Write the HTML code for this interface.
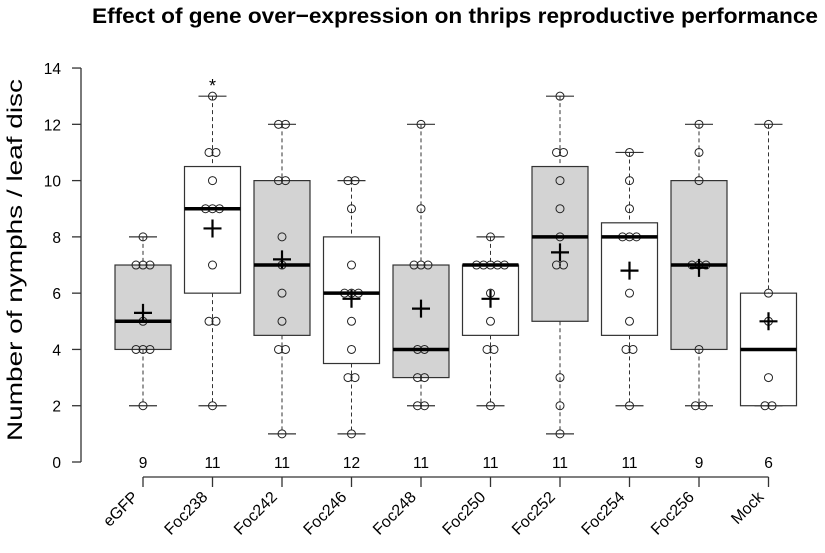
<!DOCTYPE html>
<html><head><meta charset="utf-8"><style>
body{margin:0;background:#fff}
svg text{font-family:"Liberation Sans",sans-serif}
</style></head><body>
<svg id="chart" width="825" height="548" xmlns="http://www.w3.org/2000/svg">
<text x="455" y="23" text-anchor="middle" font-size="21.5" font-weight="bold" textLength="726" lengthAdjust="spacingAndGlyphs">Effect of gene over−expression on thrips reproductive performance</text>
<text transform="translate(22,260) rotate(-90)" text-anchor="middle" font-size="21" textLength="362" lengthAdjust="spacingAndGlyphs">Number of nymphs / leaf disc</text>
<g id="g"></g>
</svg>
<script>
const categories=["eGFP","Foc238","Foc242","Foc246","Foc248","Foc250","Foc252","Foc254","Foc256","Mock"];
const q1s=[4,6,4.5,3.5,3,4.5,5,4.5,4,2];
const medians=[5,9,7,6,4,7,8,8,7,4];
const q3s=[7,10.5,10,8,7,7,10.5,8.5,10,6];
const whiskLo=[2,2,1,1,2,2,1,2,2,2];
const whiskHi=[8,13,12,10,12,8,13,11,12,12];
const means=[5.3,8.3,7.2,5.8,5.45,5.8,7.45,6.8,6.9,5];
const counts=["9","11","11","12","11","11","11","11","9","6"];
const shaded=[true,false,true,false,true,false,true,false,true,false];
const points=[
[8,7,7,7,5,4,4,4,2],
[13,11,11,10,9,9,9,7,5,5,2],
[12,12,10,10,8,7,6,5,4,4,1],
[10,10,9,7,6,6,6,5,4,3,3,1],
[12,9,7,7,7,4,4,3,3,2,2],
[8,7,7,7,7,7,6,5,4,4,2],
[13,11,11,10,9,8,7,7,3,2,1],
[11,10,9,8,8,8,6,5,4,4,2],
[12,11,10,7,7,7,4,2,2],
[12,6,5,3,2,2]];
const yTicks=[0,2,4,6,8,10,12,14];
const y=v=>462-v*28.14;
const x=i=>143+i*69.5;
const NS="http://www.w3.org/2000/svg";
const g=document.getElementById('g');
function mk(t,a,txt){const e=document.createElementNS(NS,t);for(const k in a)e.setAttribute(k,a[k]);if(txt!==undefined)e.textContent=txt;g.appendChild(e);return e;}
let e=mk('line',{x1:81,x2:81,y1:y(14),y2:y(0),stroke:'#333','stroke-width':1.3});


yTicks.forEach(t=>{
 let l=mk('line',{x1:72,x2:81,y1:y(t),y2:y(t),stroke:'#333','stroke-width':1.3});
 
 
 let tx=mk('text',{x:61,y:y(t)+6,'text-anchor':'end','font-size':15.5},t);
 
 
});
e=mk('line',{x1:x(0),x2:x(9),y1:477,y2:477,stroke:'#333','stroke-width':1.3});


categories.forEach((c,i)=>{
 const cx=x(i),hw=28;
 let t=mk('line',{x1:cx,x2:cx,y1:477,y2:487,stroke:'#333','stroke-width':1.3});
 
 
 let n=mk('text',{x:cx,y:468,'text-anchor':'middle','font-size':15.5},counts[i]);
 
 
 let lb=mk('text',{transform:`translate(${cx-4},${498}) rotate(-45)`,'text-anchor':'end','font-size':16},c);
 
 
 let w1=mk('line',{x1:cx,x2:cx,y1:y(whiskHi[i]),y2:y(q3s[i]),stroke:'#333','stroke-dasharray':'4,3'});
 
 
 let w2=mk('line',{x1:cx,x2:cx,y1:y(q1s[i]),y2:y(whiskLo[i]),stroke:'#333','stroke-dasharray':'4,3'});
 
 
 [whiskHi[i],whiskLo[i]].forEach(v=>{let c2=mk('line',{x1:cx-14,x2:cx+14,y1:y(v),y2:y(v),stroke:'#333','stroke-width':1.2});
 
 });
 let b=mk('rect',{x:cx-hw,y:y(q3s[i]),width:2*hw,height:y(q1s[i])-y(q3s[i]),fill:shaded[i]?'#d3d3d3':'#fff',stroke:'#333','stroke-width':1.2});
 
 
 const seen={};
 points[i].forEach(v=>{seen[v]=(seen[v]||0)+1;});
 const idx={};
 points[i].forEach(v=>{const k=seen[v];idx[v]=(idx[v]||0);const off=(idx[v]-(k-1)/2)*7;idx[v]++;
  let p=mk('circle',{cx:cx+off,cy:y(v),r:4,fill:'none',stroke:'#222','stroke-width':1});
  
  });
 let m=mk('line',{x1:cx-hw,x2:cx+hw,y1:y(medians[i]),y2:y(medians[i]),stroke:'#000','stroke-width':3.5});
 
 
 const my=y(means[i]);
 let mm=mk('path',{d:`M${cx-9},${my}H${cx+9}M${cx},${my-9}V${my+9}`,stroke:'#000','stroke-width':2.2});
 
 
});
e=mk('text',{x:x(1),y:y(13.5)+10,'text-anchor':'middle','font-size':18},'*');


</script>
</body></html>
